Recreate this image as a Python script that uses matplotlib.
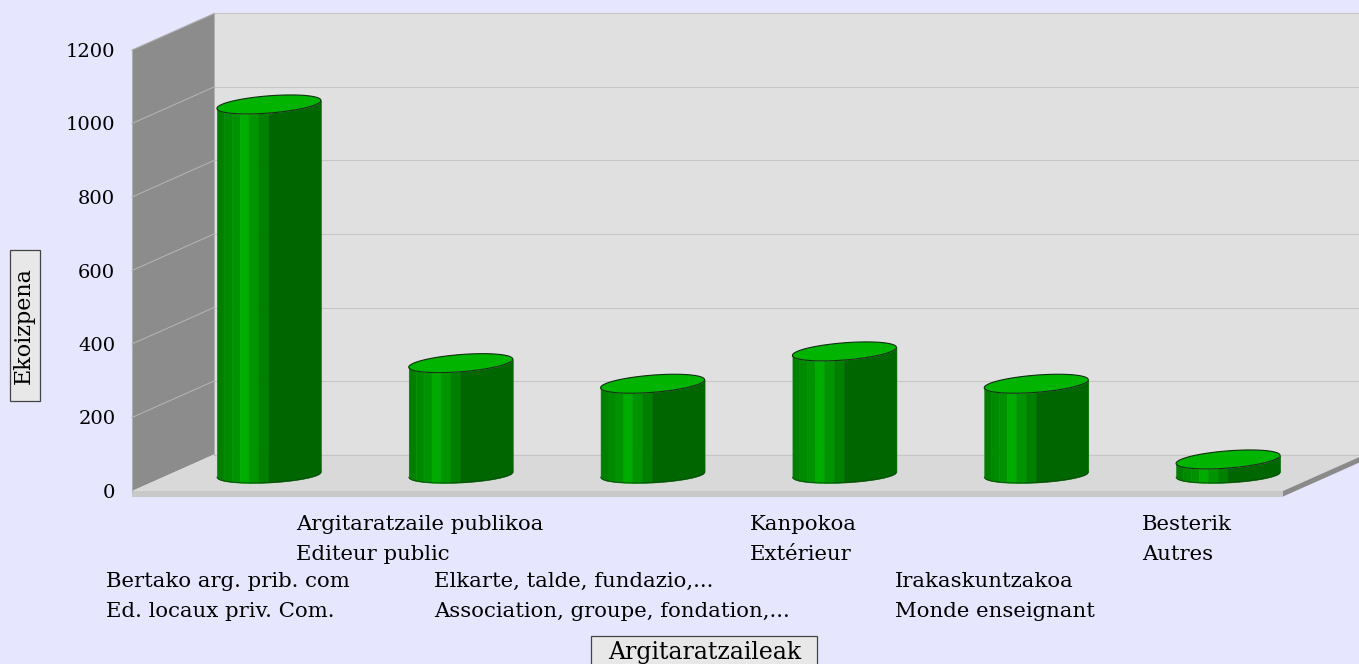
import matplotlib
matplotlib.use("Agg")
import matplotlib.pyplot as plt
from matplotlib.patches import Rectangle
import numpy as np

# datos
categorias = [
    "Bertako arg. prib. com\nEd. locaux priv. Com.",
    "Argitaratzaile publikoa\nEditeur public",
    "Elkarte, talde, fundazio,...\nAssociation, groupe, fondation,...",
    "Kanpokoa\nExtérieur",
    "Irakaskuntzakoa\nMonde enseignant",
    "Besterik\nAutres",
]
produccion = [1007, 303, 247, 335, 247, 41]
ticks_y = [0, 200, 400, 600, 800, 1000, 1200]

ANCHO, ALTO = 1359, 664
IZQ, DER, ARR, ABA = 132, 1283, 50, 491

plt.rcParams["font.family"] = "DejaVu Serif"
fig = plt.figure(figsize=(ANCHO / 100, ALTO / 100), dpi=100, facecolor="#E6E6FF")
ax = fig.add_axes([IZQ / ANCHO, 1 - ABA / ALTO, (DER - IZQ) / ANCHO, (ABA - ARR) / ALTO])
ax.set_xlim(-0.5, 5.5)
ax.set_ylim(0, 1200)
ax.patch.set_visible(False)
for s in ax.spines.values():
    s.set_visible(False)

# escala pixel -> datos
ux = 6 / (DER - IZQ)
uy = 1200 / (ABA - ARR)
dx = 82 * ux
dy = 36.5 * uy
x0 = -0.5
x1 = 5.5
xfin = x1 + 90 * ux


def poli(xs, ys, color, z):
    ax.fill(xs, ys, color=color, lw=0, zorder=z, clip_on=False)


# caja 3D: pared del fondo, pared lateral, suelo y canto
poli([x0 + dx, xfin, xfin, x0 + dx], [dy, dy, 1200 + dy, 1200 + dy], "#E0E0E0", 1)
poli([x0, x0 + dx, x0 + dx, x0], [0, dy, 1200 + dy, 1200], "#8C8C8C", 2)
poli([x0, x1, x1 + dx, x0 + dx], [0, 0, dy, dy], "#D9D9D9", 2)
poli([x0, x1, x1, x0], [0, 0, -15, -15], "#C8C8C8", 3)
poli([x1, x1 + dx, x1 + dx, x1], [0, dy, dy - 15, -15], "#8A8A8A", 3)

# grilla
for v in ticks_y:
    ax.plot([x0 + dx, xfin], [v + dy, v + dy], color="#C6C6C6", lw=0.75, zorder=2, clip_on=False)
    if 0 < v < 1200:
        ax.plot([x0, x0 + dx], [v, v + dy], color="#B4B4B4", lw=0.75, zorder=3, clip_on=False)
ax.plot([x0 + dx, x0 + dx], [dy, 1200 + dy], color="#B0B0B0", lw=0.75, zorder=3, clip_on=False)
ax.plot([x0, x0 + dx], [1200, 1200 + dy], color="#B0B0B0", lw=0.75, zorder=3, clip_on=False)
ax.plot([x0, x0], [0, 1200], color="#B0B0B0", lw=0.75, zorder=3, clip_on=False)

# cilindros
a = 52 * ux
s_sup = 4 * uy
b_sup = 8.6 * uy
s_inf = 2.7 * uy
b_inf = 8 * uy
cortes = np.array([0, 7, 15, 23, 32, 42, 52, 105]) / 105
colores = ["#007F00", "#008A00", "#009200", "#00AB00", "#009400", "#008000", "#006600"]
base = 16.5 * uy


def curva(xr, s, b):
    return s * xr - b * np.sqrt(np.clip(1 - xr ** 2, 0, 1))


for i, v in enumerate(produccion):
    cx = i + dx / 2
    for j, c in enumerate(colores):
        xr = np.linspace(-1 + 2 * cortes[j], -1 + 2 * cortes[j + 1], 40)
        ax.fill_between(cx + a * xr, base + curva(xr, s_inf, b_inf), base + v + curva(xr, s_sup, b_sup),
                        color=c, lw=0.4, zorder=5, clip_on=False)
    xr = np.linspace(-1, 1, 120)
    ax.plot(cx + a * xr, base + curva(xr, s_inf, b_inf), color="#0A4A0A", lw=0.6, zorder=5, clip_on=False)
    t = np.linspace(0, 2 * np.pi, 200)
    xe = cx + a * np.cos(t)
    ye = base + v + s_sup * np.cos(t) + b_sup * np.sin(t)
    ax.fill(xe, ye, facecolor="#00B400", edgecolor="#103010", lw=0.8, zorder=6, clip_on=False)

ax.set_yticks(ticks_y)
ax.tick_params(axis="y", length=0, pad=12, labelsize=14)
ax.set_xticks(range(len(categorias)))
ax.set_xticklabels(categorias)
ax.tick_params(axis="x", length=0, labelsize=15.3)
for i, tick in enumerate(ax.xaxis.get_major_ticks()):
    tick.set_pad(58.5 if i % 2 == 0 else 17.5)
    tick.label1.set_multialignment("left")
    tick.label1.set_linespacing(1.7)


def caja(x, y, ancho, alto):
    fig.add_artist(Rectangle((x / ANCHO, 1 - (y + alto) / ALTO), ancho / ANCHO, alto / ALTO,
                             transform=fig.transFigure, facecolor="#E8E8E8", edgecolor="#444444", lw=0.9))


caja(591, 636, 226, 40)
caja(9.5, 250.5, 30, 150.5)
fig.text(704.5 / ANCHO, 1 - 652 / ALTO, "Argitaratzaileak", fontsize=17, ha="center", va="center")
fig.text(24 / ANCHO, 1 - 326 / ALTO, "Ekoizpena", fontsize=16, rotation=90, ha="center", va="center")

fig.savefig("out.png", dpi=100, facecolor=fig.get_facecolor())
